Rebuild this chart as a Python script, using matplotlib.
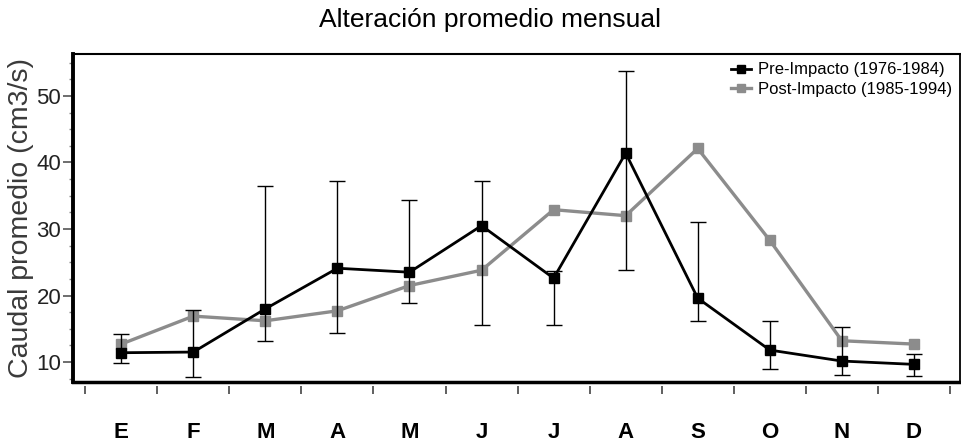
import numpy as np
import matplotlib
matplotlib.use('Agg')
import matplotlib.pyplot as plt
import matplotlib.transforms as mtransforms
from matplotlib.ticker import MultipleLocator, FixedLocator, NullFormatter
from matplotlib.lines import Line2D

plt.rcParams['font.family'] = ['Liberation Sans', 'DejaVu Sans']

# meses
meses = ['E', 'F', 'M', 'A', 'M', 'J', 'J', 'A', 'S', 'O', 'N', 'D']

# Pre-Impacto (1976-1984): media y extremos de la barra de error
pre = [11.4, 11.5, 18.0, 24.1, 23.5, 30.5, 22.6, 41.4, 19.6, 11.8, 10.15, 9.65]
pre_sup = [14.2, 17.8, 36.4, 37.2, 34.4, 37.2, 23.7, 53.8, 31.1, 16.1, 15.3, 11.2]
pre_inf = [9.8, 7.8, 13.1, 14.4, 18.9, 15.5, 15.5, 23.9, 16.2, 8.9, 8.1, 7.9]

# Post-Impacto (1985-1994)
post = [12.7, 16.9, 16.2, 17.7, 21.5, 23.8, 32.9, 32.0, 42.1, 28.3, 13.2, 12.7]

x = np.arange(len(meses))
pre = np.array(pre)
yerr = [pre - np.array(pre_inf), np.array(pre_sup) - pre]

fig = plt.figure(figsize=(9.61, 4.42), dpi=100)
ax = fig.add_axes([73/961, 1-382/442, 887/961, 328/442])

ax.plot(x, post, color='#8c8c8c', lw=2.4, marker='s', ms=7.5, zorder=2)
ax.errorbar(x, pre, yerr=yerr, color='black', lw=2.0, marker='s', ms=7.5,
            ecolor='black', elinewidth=1.0, capsize=5.5, capthick=1.0, zorder=3)

ax.set_xlim(-0.67, 11.64)
ax.set_ylim(7.0, 56.3)

# ejes
ax.yaxis.set_major_locator(MultipleLocator(10))
ax.yaxis.set_minor_locator(MultipleLocator(2.5))
ax.tick_params(axis='y', which='major', length=7, width=1.2, color='#555555', pad=1.5, labelsize=16, labelcolor='#222222')
ax.tick_params(axis='y', which='minor', length=3, width=1, color='#888888')

# marcas del eje x entre meses, etiquetas en negrita debajo
ax.xaxis.set_major_locator(FixedLocator(np.arange(-0.5, 12, 1)))
ax.xaxis.set_major_formatter(NullFormatter())
ax.tick_params(axis='x', which='major', length=6, width=1.2, color='#444444')
trans = mtransforms.blended_transform_factory(ax.transData, fig.transFigure)
for xi, m in zip(x, meses):
    ax.text(xi, 1-432/442, m, transform=trans, ha='center', va='center',
            fontsize=16, fontweight='bold', family='Liberation Sans')

for s in ['left', 'top', 'right']:
    ax.spines[s].set_color('black')
ax.spines['left'].set_linewidth(2.8)
ax.spines['top'].set_linewidth(1.5)
ax.spines['right'].set_linewidth(1.3)
ax.spines['bottom'].set_position(('outward', 3))
ax.spines['bottom'].set_color('none')
ax.plot([0, 1], [0, 0], transform=ax.transAxes, color='black', lw=2.5, clip_on=False, zorder=5)

fig.text(21/961, 1-218/442, 'Caudal promedio (cm3/s)', rotation=90, ha='center', va='center',
         fontsize=20.5, color='#3a3a3a')
fig.text(0.51, 1-20/442, 'Alteración promedio mensual', ha='center', va='center', fontsize=19)

h = [Line2D([], [], color='black', lw=2.0, marker='s', ms=6),
     Line2D([], [], color='#8c8c8c', lw=2.4, marker='s', ms=6)]
ax.legend(h, ['Pre-Impacto (1976-1984)', 'Post-Impacto (1985-1994)'], loc='upper right',
          frameon=False, fontsize=12, handlelength=1.2, handletextpad=0.4,
          labelspacing=0.25, borderaxespad=0.1)

fig.savefig('out.png', dpi=100)
